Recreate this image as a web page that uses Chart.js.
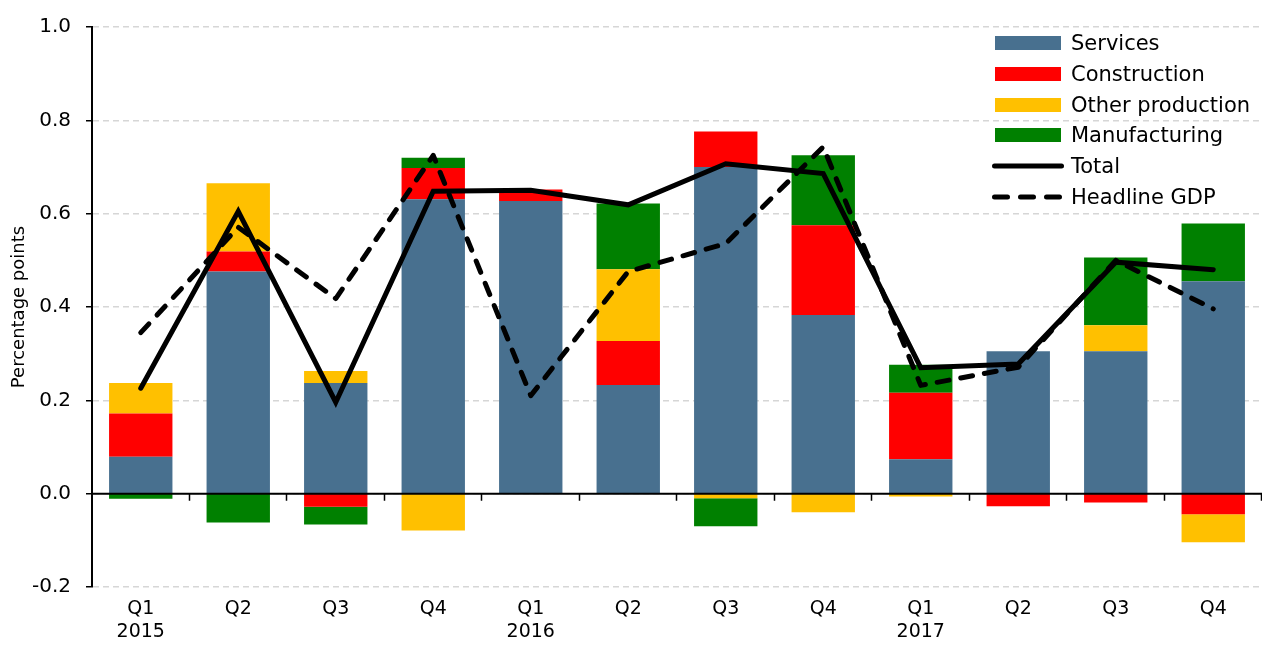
<!DOCTYPE html>
<html>
<head>
<meta charset="utf-8">
<script src="https://cdn.jsdelivr.net/npm/chart.js@4.4.1/dist/chart.umd.min.js"></script>
<style>
  html, body { margin: 0; padding: 0; background: #fff; }
  #wrap { position: relative; width: 1262px; height: 650px; }
  #legend { position: absolute; left: 990px; top: 28px; font-family: "DejaVu Sans", sans-serif; font-size: 21px; color: #000; }
  #legend .row { height: 30.7px; display: flex; align-items: center; }
  #legend svg { width: 76px; height: 20px; margin-right: 5px; flex: none; }
</style>
</head>
<body>
<div id="wrap">
  <canvas id="chart" width="1262" height="650"></canvas>
  <div id="legend"></div>
</div>
<script>
// quarters 2015 Q1 .. 2017 Q4
const labels = [['Q1', '2015'], 'Q2', 'Q3', 'Q4', ['Q1', '2016'], 'Q2', 'Q3', 'Q4', ['Q1', '2017'], 'Q2', 'Q3', 'Q4'];

// contributions to growth, percentage points
const services      = [0.079, 0.476, 0.237, 0.631, 0.627, 0.233, 0.700, 0.383, 0.074, 0.305, 0.305, 0.455];
const construction  = [0.093, 0.043, -0.028, 0.067, 0.025, 0.094, 0.076, 0.192, 0.142, -0.027, -0.019, -0.044];
const otherProd     = [0.065, 0.146, 0.026, -0.079, 0, 0.154, -0.010, -0.040, -0.006, 0, 0.056, -0.060];
const manufacturing = [-0.011, -0.062, -0.038, 0.022, 0, 0.141, -0.060, 0.150, 0.060, 0, 0.145, 0.124];
const total         = [0.226, 0.605, 0.196, 0.648, 0.650, 0.619, 0.707, 0.686, 0.270, 0.278, 0.496, 0.480];
const headlineGdp   = [0.345, 0.571, 0.418, 0.725, 0.210, 0.476, 0.536, 0.743, 0.232, 0.271, 0.500, 0.396];

const colors = {
    services: '#48708f',
    construction: '#ff0000',
    other: '#ffc000',
    manufacturing: '#008000'
};

const fontFamily = '"DejaVu Sans", sans-serif';

function bar(label, data, color) {
    return {
        type: 'bar',
        label: label,
        data: data,
        backgroundColor: color,
        borderWidth: 0,
        order: 1,
        barPercentage: 0.65,
        categoryPercentage: 1
    };
}

function line(label, data, dash, stack) {
    return {
        type: 'line',
        label: label,
        data: data,
        stack: stack,
        borderColor: '#000',
        borderWidth: 5,
        borderDash: dash,
        borderCapStyle: 'round',
        borderJoinStyle: dash.length ? 'round' : 'miter',
        pointRadius: 0,
        tension: 0,
        fill: false,
        order: 0
    };
}

// black line at zero with small ticks between quarters
const zeroAxis = {
    id: 'zeroAxis',
    afterDatasetsDraw(chart) {
        const {ctx, chartArea, scales} = chart;
        const y0 = scales.y.getPixelForValue(0);
        ctx.save();
        ctx.strokeStyle = '#000';
        ctx.lineWidth = 2;
        ctx.beginPath();
        ctx.moveTo(chartArea.left, y0);
        ctx.lineTo(chartArea.right, y0);
        ctx.stroke();
        ctx.lineWidth = 1.5;
        ctx.beginPath();
        for (let i = 0; i < labels.length; i++) {
            const px = Math.round(scales.x.getPixelForValue(i + 0.5)) - 0.5;
            ctx.moveTo(px, y0);
            ctx.lineTo(px, y0 + 7);
        }
        ctx.stroke();
        ctx.restore();
    }
};

new Chart(document.getElementById('chart'), {
    data: {
        labels: labels,
        datasets: [
            bar('Services', services, colors.services),
            bar('Construction', construction, colors.construction),
            bar('Other production', otherProd, colors.other),
            bar('Manufacturing', manufacturing, colors.manufacturing),
            line('Total', total, [], 'total'),
            line('Headline GDP', headlineGdp, [12, 12], 'gdp')
        ]
    },
    options: {
        responsive: false,
        animation: false,
        layout: {padding: {top: 27, right: 0, left: 0, bottom: 0}},
        plugins: {
            legend: {display: false},
            tooltip: {enabled: false}
        },
        scales: {
            x: {
                stacked: true,
                grid: {display: false},
                border: {display: false},
                ticks: {
                    color: '#000',
                    font: {family: fontFamily, size: 19},
                    padding: 3,
                    maxRotation: 0,
                    autoSkip: false
                },
                afterFit(scale) { scale.height = 63; }
            },
            y: {
                stacked: true,
                min: -0.2,
                max: 1.0,
                grid: {
                    color: '#d6d6d6',
                    lineWidth: 1.5,
                    tickColor: '#000',
                    tickLength: 6,
                    tickWidth: 1.5
                },
                border: {display: true, color: '#000', width: 2, dash: [6, 4]},
                ticks: {
                    stepSize: 0.2,
                    color: '#000',
                    font: {family: fontFamily, size: 20},
                    padding: 15,
                    callback: v => (Math.abs(v) < 1e-9 ? 0 : v).toFixed(1)
                },
                title: {
                    display: true,
                    text: 'Percentage points',
                    color: '#000',
                    font: {family: fontFamily, size: 18},
                    padding: {top: 9, bottom: 0}
                },
                afterFit(scale) { scale.width = 92; }
            }
        }
    },
    plugins: [zeroAxis]
});

// legend drawn as html so it can sit inside the plot area, top right
const legendItems = [
    {label: 'Services', kind: 'box', color: colors.services},
    {label: 'Construction', kind: 'box', color: colors.construction},
    {label: 'Other production', kind: 'box', color: colors.other},
    {label: 'Manufacturing', kind: 'box', color: colors.manufacturing},
    {label: 'Total', kind: 'line'},
    {label: 'Headline GDP', kind: 'dash'}
];
const legendEl = document.getElementById('legend');
legendItems.forEach(item => {
    let mark;
    if (item.kind === 'box') {
        mark = `<rect x="5" y="3" width="66" height="14" fill="${item.color}"/>`;
    } else {
        const dash = item.kind === 'dash' ? 'stroke-dasharray="13 13"' : '';
        mark = `<line x1="4.5" y1="10" x2="71.5" y2="10" stroke="#000" stroke-width="5" stroke-linecap="round" ${dash}/>`;
    }
    const row = document.createElement('div');
    row.className = 'row';
    row.innerHTML = `<svg viewBox="0 0 76 20">${mark}</svg><span>${item.label}</span>`;
    legendEl.appendChild(row);
});
</script>
</body>
</html>
